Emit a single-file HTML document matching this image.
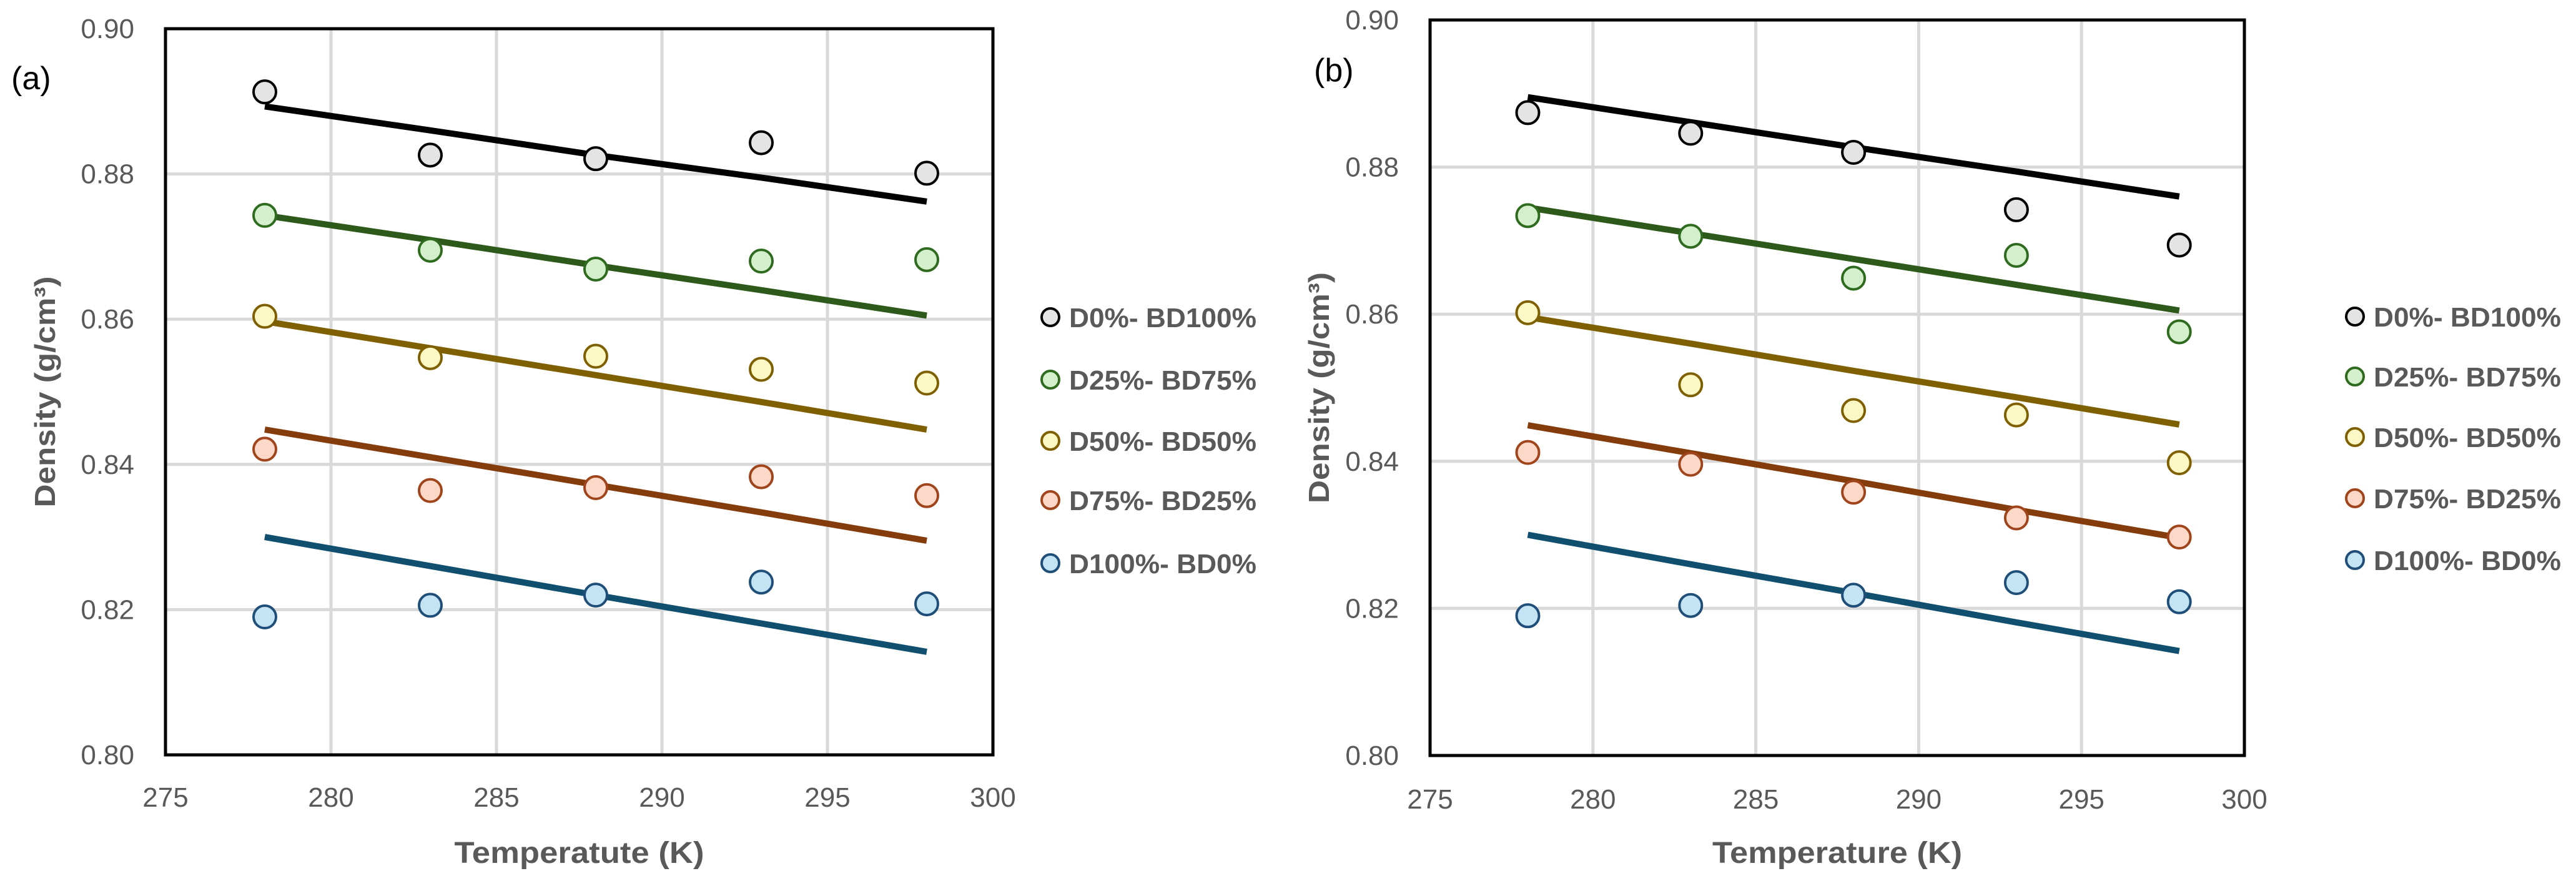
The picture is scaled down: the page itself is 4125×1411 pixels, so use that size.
<!DOCTYPE html>
<html><head><meta charset="utf-8"><style>
html,body{margin:0;padding:0;background:#fff;}
svg{display:block;font-family:"Liberation Sans",sans-serif;}
</style></head><body>
<svg id="root" width="4125" height="1411" viewBox="0 0 4125 1411" xmlns="http://www.w3.org/2000/svg"></svg>
<script>
const temps = [278, 283, 288, 293, 298];
const seriesNames = ["D0%- BD100%", "D25%- BD75%", "D50%- BD50%", "D75%- BD25%", "D100%- BD0%"];
const xTicks = [275, 280, 285, 290, 295, 300];
const yTicks = [0.80, 0.82, 0.84, 0.86, 0.88, 0.90];
// chart (a)
const aPoints0 = [0.8913, 0.8826, 0.8821, 0.8843, 0.8801];
const aPoints1 = [0.8743, 0.8695, 0.8669, 0.8680, 0.8682];
const aPoints2 = [0.8604, 0.8547, 0.8549, 0.8531, 0.8512];
const aPoints3 = [0.8421, 0.8364, 0.8368, 0.8383, 0.8357];
const aPoints4 = [0.8190, 0.8206, 0.8220, 0.8238, 0.8208];
const aLine0 = [0.8893, 0.8860, 0.8826, 0.8795, 0.8762];
const aLine1 = [0.8743, 0.8709, 0.8674, 0.8640, 0.8605];
const aLine2 = [0.8597, 0.8560, 0.8523, 0.8486, 0.8448];
const aLine3 = [0.8448, 0.8410, 0.8372, 0.8334, 0.8295];
const aLine4 = [0.8300, 0.8260, 0.8220, 0.8181, 0.8142];
// chart (b)
const bPoints0 = [0.8874, 0.8846, 0.8820, 0.8742, 0.8694];
const bPoints1 = [0.8734, 0.8706, 0.8649, 0.8680, 0.8576];
const bPoints2 = [0.8602, 0.8504, 0.8469, 0.8463, 0.8398];
const bPoints3 = [0.8412, 0.8396, 0.8358, 0.8323, 0.8297];
const bPoints4 = [0.8190, 0.8204, 0.8218, 0.8235, 0.8209];
const bLine0 = [0.8895, 0.8861, 0.8827, 0.8794, 0.8760];
const bLine1 = [0.8745, 0.8710, 0.8675, 0.8640, 0.8605];
const bLine2 = [0.8596, 0.8560, 0.8523, 0.8487, 0.8450];
const bLine3 = [0.8449, 0.8411, 0.8373, 0.8334, 0.8296];
const bLine4 = [0.8300, 0.8260, 0.8221, 0.8181, 0.8142];

const fills = ["#e4e4e4", "#d4efcb", "#fcf8c6", "#fbd8c8", "#c5e4f3"];
const strokes = ["#000000", "#2e6b1f", "#7f6000", "#a0441c", "#1f4e79"];
const lineCols = ["#000000", "#2d5a1b", "#7f6000", "#843c0c", "#114f6e"];

const NS = "http://www.w3.org/2000/svg";
const root = document.getElementById("root");
function mk(tag, attrs, parent, txt) {
  const e = document.createElementNS(NS, tag);
  for (const k in attrs) e.setAttribute(k, attrs[k]);
  if (txt !== undefined) e.textContent = txt;
  (parent || root).appendChild(e);
  return e;
}

function chart(cfg) {
  const g = mk("g", {});
  
  
  const L = cfg.left, R = cfg.right, T = cfg.top, B = cfg.bottom;
  const xs = v => L + (v - 275) / 25 * (R - L);
  const ys = v => B - (v - 0.80) / 0.10 * (B - T);
  // gridlines
  yTicks.forEach(t => {
    const ln = mk("line", {x1: L, x2: R, y1: ys(t), y2: ys(t), stroke: "#d9d9d9", "stroke-width": 5}, g);
    
    
    const tx = mk("text", {x: L - 50, y: ys(t) + 15, "text-anchor": "end", "font-size": 44, fill: "#595959"}, g, t.toFixed(2));
    
    
  });
  xTicks.forEach(t => {
    const ln = mk("line", {x1: xs(t), x2: xs(t), y1: T, y2: B, stroke: "#d9d9d9", "stroke-width": 5}, g);
    
    
    const tx = mk("text", {x: xs(t), y: cfg.xLabelY, "text-anchor": "middle", "font-size": 44, fill: "#595959"}, g, String(t));
    
    
  });
  const fr = mk("rect", {x: L, y: T, width: R - L, height: B - T, fill: "none", stroke: "#000", "stroke-width": 5}, g);
  
  
  // lines
  cfg.lines.forEach((arr, i) => {
    const d = arr.map((v, j) => (j ? "L" : "M") + xs(temps[j]).toFixed(1) + "," + ys(v).toFixed(1)).join(" ");
    const p = mk("path", {d: d, fill: "none", stroke: lineCols[i], "stroke-width": 10, "stroke-linejoin": "round"}, g);
    
    
  });
  // points
  cfg.points.forEach((arr, i) => {
    arr.forEach((v, j) => {
      const c = mk("circle", {cx: xs(temps[j]), cy: ys(v), r: 18, fill: fills[i], stroke: strokes[i], "stroke-width": 4}, g);
      
      
    });
  });
  // titles
  const xt = mk("text", {x: (L + R) / 2, y: cfg.xTitleY, "text-anchor": "middle", "font-size": 48, "font-weight": "bold", fill: "#595959", textLength: cfg.xTitleLen, lengthAdjust: "spacingAndGlyphs"}, g, cfg.xTitle);
  
  
  const yt = mk("text", {x: 0, y: 0, "text-anchor": "middle", "font-size": 46, "font-weight": "bold", fill: "#595959", transform: "translate(" + cfg.yTitleX + "," + (T + B) / 2 + ") rotate(-90)", textLength: 370, lengthAdjust: "spacingAndGlyphs"}, g, "Density (g/cm³)");
  
  
  const pl = mk("text", {x: cfg.panelX, y: cfg.panelY, "font-size": 52, fill: "#000"}, g, cfg.panel);
  
  
  // legend
  seriesNames.forEach((n, i) => {
    const y = cfg.legY[i];
    const c = mk("circle", {cx: cfg.legX, cy: y, r: 14, fill: fills[i], stroke: strokes[i], "stroke-width": 4}, g);
    
    
    const t = mk("text", {x: cfg.legX + 30, y: y + 16, "font-size": 44, "font-weight": "bold", fill: "#595959", textLength: 300, lengthAdjust: "spacingAndGlyphs"}, g, n);
    
    
  });
}

chart({name: "chart-a", left: 265, right: 1590, top: 46, bottom: 1209, xLabelY: 1292, xTitleY: 1382, xTitle: "Temperatute (K)", xTitleLen: 400,
  yTitleX: 88, panelX: 18, panelY: 143, panel: "(a)",
  lines: [aLine0, aLine1, aLine2, aLine3, aLine4], points: [aPoints0, aPoints1, aPoints2, aPoints3, aPoints4],
  legX: 1682, legY: [508, 608, 706, 801, 902]});
chart({name: "chart-b", left: 2290, right: 3594, top: 32, bottom: 1210, xLabelY: 1295, xTitleY: 1382, xTitle: "Temperature (K)", xTitleLen: 400,
  yTitleX: 2128, panelX: 2104, panelY: 130, panel: "(b)",
  lines: [bLine0, bLine1, bLine2, bLine3, bLine4], points: [bPoints0, bPoints1, bPoints2, bPoints3, bPoints4],
  legX: 3771, legY: [507, 603, 700, 798, 897]});
</script>
</body></html>
